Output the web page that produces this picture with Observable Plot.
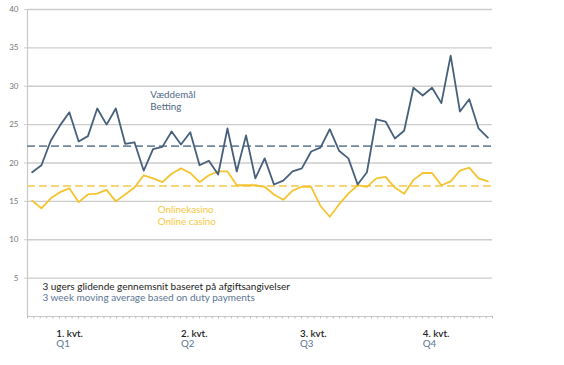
<!DOCTYPE html>
<html>
<head>
<meta charset="utf-8">
<script src="https://cdn.jsdelivr.net/npm/d3@7"></script>
<script src="https://cdn.jsdelivr.net/npm/@observablehq/plot@0.6"></script>
<style>
  html, body { margin: 0; padding: 0; background: #fff; }
  #chart svg { display: block; }
</style>
</head>
<body>
<div id="chart"></div>
<script>
// Weekly 3-week moving averages
const betting = [18.8, 19.7, 22.9, 24.9, 26.6, 22.8, 23.5, 27.1, 25.0, 27.1,
                 22.5, 22.7, 19.0, 21.8, 22.1, 24.1, 22.4, 24.0, 19.7, 20.3,
                 18.5, 24.5, 18.9, 23.6, 18.0, 20.6, 17.2, 17.7, 18.9, 19.3,
                 21.5, 22.0, 24.4, 21.6, 20.6, 17.2, 18.8, 25.7, 25.4, 23.2,
                 24.2, 29.8, 28.8, 29.8, 27.8, 34.0, 26.7, 28.3, 24.5, 23.3];
const casino  = [15.1, 14.1, 15.4, 16.2, 16.7, 14.9, 15.9, 16.0, 16.5, 15.0,
                 15.9, 16.8, 18.4, 18.0, 17.5, 18.6, 19.3, 18.7, 17.5, 18.4,
                 18.9, 18.9, 17.1, 17.1, 17.1, 16.9, 15.9, 15.2, 16.4, 16.9,
                 16.9, 14.4, 13.0, 14.6, 16.0, 17.1, 16.9, 18.0, 18.2, 16.8,
                 16.0, 17.8, 18.7, 18.7, 17.1, 17.6, 19.0, 19.4, 18.0, 17.6];
const bettingMean = 22.2;
const casinoMean = 17.0;

const yTicks = [5, 10, 15, 20, 25, 30, 35, 40];
const quarterDa = ["1. kvt.", "2. kvt.", "3. kvt.", "4. kvt."];
const quarterEn = ["Q1", "Q2", "Q3", "Q4"];
const quarterAt = [2.6, 16, 28.8, 42];

const weeks = betting.map((_, i) => i);
const bettingData = weeks.map(i => ({week: i, value: betting[i]}));
const casinoData = weeks.map(i => ({week: i, value: casino[i]}));
const quarters = quarterAt.map((x, i) => ({x, da: quarterDa[i], en: quarterEn[i]}));
const minorTicks = d3.range(74).map(i => -0.5 + i * 50 / 73);

const font = "Lato, 'Open Sans', sans-serif";
const cBet = "#46607b", cBetMean = "#72889f";
const cCas = "#f4c430", cCasMean = "#f4c84a";

const chart = Plot.plot({
  width: 564,
  height: 365,
  marginTop: 9,
  marginBottom: 49,
  marginLeft: 27,
  marginRight: 72,
  style: {fontFamily: font, background: "#fff"},
  x: {domain: [-0.5, 49.5], axis: null},
  y: {domain: [0, 40], axis: null},
  marks: [
    Plot.gridY(yTicks, {stroke: "#cccccc", strokeOpacity: 1, strokeWidth: 1.4}),
    Plot.axisY(yTicks, {tickSize: 3, tickPadding: 6, stroke: "#cccccc", fill: "#777", fontSize: 8, label: null}),
    Plot.ruleX([-0.5], {y1: 0, y2: 40, stroke: "#c8c8c8", strokeWidth: 1.2}),
    Plot.ruleY([0], {stroke: "#c8c8c8", strokeWidth: 1.2}),
    Plot.axisX(minorTicks, {tickSize: 2.5, tickFormat: () => "", stroke: "#bbb", label: null}),
    Plot.ruleY([bettingMean], {stroke: cBetMean, strokeWidth: 1.6, strokeDasharray: "8,4"}),
    Plot.ruleY([casinoMean], {stroke: cCasMean, strokeWidth: 1.6, strokeDasharray: "8,4"}),
    Plot.line(casinoData, {x: "week", y: "value", stroke: cCas, strokeWidth: 1.8}),
    Plot.line(bettingData, {x: "week", y: "value", stroke: cBet, strokeWidth: 1.8}),
    Plot.text(["Væddemål"], {x: 12.7, y: 28.85, text: d => d, textAnchor: "start", fill: "#4f6985", fontSize: 9.8}),
    Plot.text(["Betting"], {x: 12.7, y: 27.35, text: d => d, textAnchor: "start", fill: "#4f6985", fontSize: 9.8}),
    Plot.text(["Onlinekasino"], {x: 13.5, y: 13.85, text: d => d, textAnchor: "start", fill: "#f5c842", fontSize: 9.8}),
    Plot.text(["Online casino"], {x: 13.5, y: 12.3, text: d => d, textAnchor: "start", fill: "#f5c842", fontSize: 9.8}),
    Plot.text(["3 ugers glidende gennemsnit baseret på afgiftsangivelser"], {x: 1.1, y: 3.85, text: d => d, textAnchor: "start", fill: "#222", fontSize: 10}),
    Plot.text(["3 week moving average based on duty payments"], {x: 1.1, y: 2.45, text: d => d, textAnchor: "start", fill: "#5a7593", fontSize: 10}),
    Plot.text(quarters, {x: "x", y: 0, dy: 17, text: "da", textAnchor: "start", fill: "#222", fontSize: 9.8, fontWeight: 600}),
    Plot.text(quarters, {x: "x", y: 0, dy: 27.5, text: "en", textAnchor: "start", fill: "#5a7593", fontSize: 9.8})
  ]
});
document.getElementById("chart").appendChild(chart);
</script>
</body>
</html>
